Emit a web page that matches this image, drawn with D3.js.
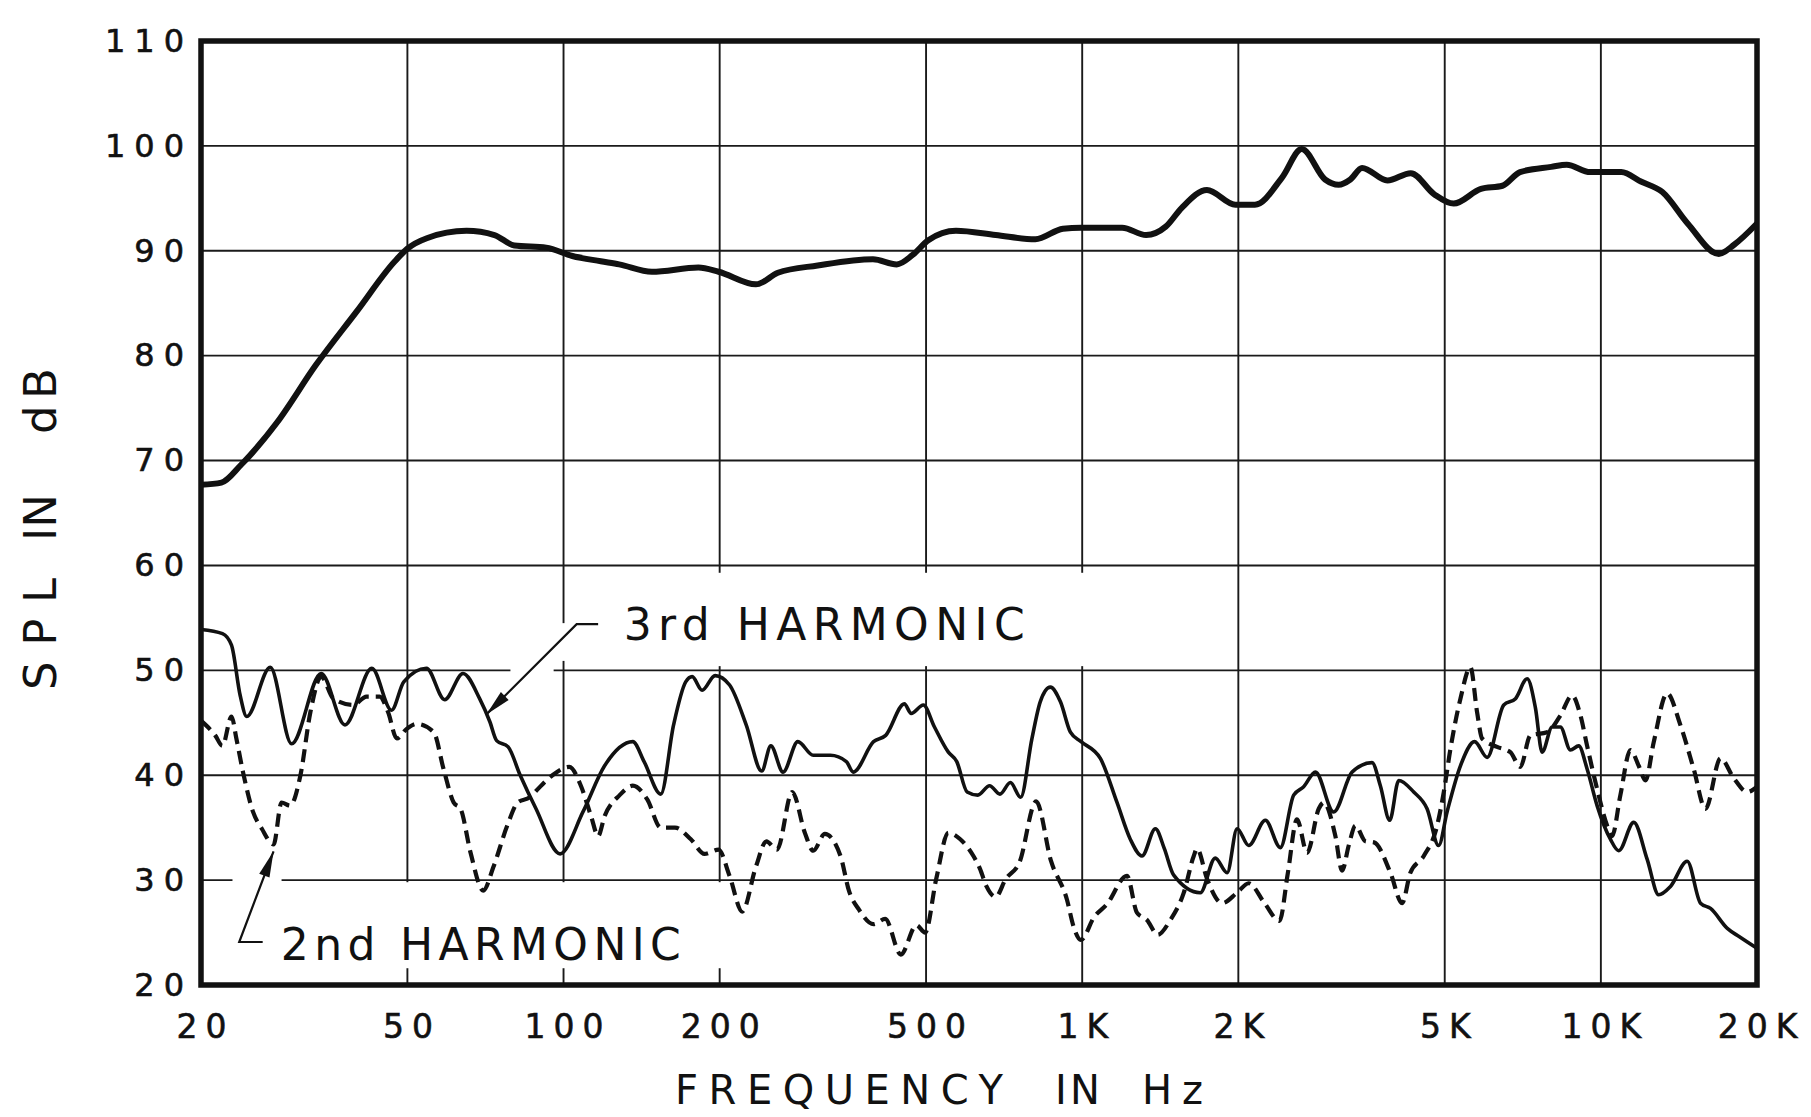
<!DOCTYPE html>
<html>
<head>
<meta charset="utf-8">
<script src="https://cdn.jsdelivr.net/npm/d3@7"></script>
<style>
    body { margin: 0; background: #fff; }
    svg { display: block; }
    text { font-family: "DejaVu Sans", sans-serif; fill: #111; }
</style>
</head>
<body>
<svg id="chart" width="1811" height="1117"></svg>
<script>
// fundamental SPL (thick line)
const responseFreq = [20, 21.9, 23.9, 28, 33.3, 39.9, 47.3, 50, 54.5, 65, 73.6, 80.4, 92.6, 104, 118, 128, 148, 182, 199, 235, 259, 309, 395, 439, 471, 505, 571, 681, 812, 918, 994, 1194, 1328, 1449, 1556, 1740, 1974, 2153, 2430, 2650, 2939, 3122, 3289, 3464, 3877, 4300, 4770, 5203, 5872, 6460, 6984, 8020, 8593, 9536, 10950, 11945, 13140, 14700, 16880, 18090, 20000]
const responseDb = [67.7, 67.9, 69.6, 73.6, 79.1, 84.2, 89.0, 90.2, 91.2, 91.9, 91.5, 90.5, 90.3, 89.5, 89.0, 88.7, 88.0, 88.4, 88.0, 86.8, 87.9, 88.6, 89.2, 88.7, 89.6, 91.0, 91.9, 91.5, 91.1, 92.1, 92.2, 92.2, 91.5, 92.3, 94.1, 95.8, 94.4, 94.4, 97.0, 99.7, 96.8, 96.3, 96.8, 97.9, 96.7, 97.4, 95.4, 94.5, 95.9, 96.2, 97.5, 98.0, 98.2, 97.5, 97.5, 96.6, 95.6, 92.6, 89.7, 90.6, 92.6]

// 3rd harmonic (solid)
const thirdFreq = [20, 22, 22.9, 23.8, 24.5, 27.2, 29.9, 34.1, 37.9, 42.7, 46.6, 49.2, 54.4, 59, 64, 68.9, 72.1, 74.3, 78.2, 82.5, 88.5, 98.5, 109, 120, 136, 143, 154, 163, 172, 177, 185, 196, 209, 225, 241, 251, 265, 283, 303, 327, 351, 362, 396, 418, 454, 468, 494, 519, 552, 573, 600, 629, 663, 694, 727, 761, 800, 830, 868, 908, 949, 995, 1084, 1167, 1238, 1304, 1384, 1440, 1500, 1689, 1805, 1903, 1989, 2094, 2255, 2410, 2557, 2673, 2816, 3054, 3313, 3621, 3757, 3916, 4077, 4357, 4623, 4867, 5052, 5361, 5710, 6036, 6498, 6845, 7211, 7480, 7706, 8055, 8356, 8735, 9063, 9408, 9834, 10432, 10826, 11572, 12279, 12928, 13622, 14670, 15563, 16272, 17530, 18500, 20000]
const thirdDb = [53.9, 53.5, 52.4, 47.6, 45.6, 50.3, 43.0, 49.7, 44.8, 50.2, 46.2, 48.9, 50.2, 47.2, 49.7, 47.3, 45.1, 43.3, 42.7, 40.0, 36.8, 32.5, 36.5, 40.9, 43.2, 41.3, 38.2, 44.8, 48.9, 49.4, 48.1, 49.5, 48.6, 44.8, 40.4, 42.8, 40.3, 43.2, 41.9, 41.9, 41.3, 40.3, 43.2, 43.8, 46.8, 45.9, 46.7, 44.6, 42.2, 41.3, 38.4, 38.1, 39.0, 38.2, 39.3, 37.9, 43.5, 47.0, 48.4, 47.0, 44.1, 43.2, 41.6, 37.4, 33.9, 32.3, 34.9, 33.0, 30.5, 28.8, 32.1, 30.7, 34.9, 33.3, 35.7, 33.1, 38.1, 38.9, 40.3, 36.5, 40.3, 41.2, 39.0, 35.7, 39.5, 38.4, 36.8, 33.3, 36.5, 40.9, 43.2, 41.7, 46.7, 47.3, 49.2, 46.4, 42.2, 44.6, 44.6, 42.4, 42.8, 40.6, 37.1, 33.9, 32.8, 35.5, 32.0, 28.6, 29.4, 31.8, 27.8, 27.3, 25.4, 24.6, 23.5]

// 2nd harmonic (dashed)
const secondFreq = [20, 21.3, 22, 22.9, 23.4, 24.1, 25.2, 26.2, 27.6, 28.6, 29.7, 31.1, 32.5, 34.1, 36, 39.3, 41.7, 44.2, 45.9, 47.7, 49.8, 52.1, 56.2, 58.7, 61.4, 63.3, 66.2, 70, 73.3, 77.9, 81.6, 86.1, 88.5, 95.2, 102.6, 108, 113, 116.6, 120, 128.3, 136, 145, 154, 164, 176, 187, 199, 209, 221, 235, 246, 258, 276, 292, 303, 319, 342, 355, 371, 396, 417, 447, 479, 498, 523, 552, 582, 617, 635, 654, 681, 712, 757, 815, 871, 935, 962, 994, 1055, 1116, 1220, 1275, 1333, 1399, 1479, 1570, 1641, 1665, 1741, 1861, 1989, 2094, 2247, 2401, 2492, 2595, 2714, 2858, 2922, 3077, 3170, 3265, 3363, 3516, 3654, 3929, 4137, 4293, 4556, 4834, 4979, 5128, 5361, 5604, 5773, 5902, 6308, 6691, 6994, 7313, 7877, 8356, 8801, 9134, 9408, 9834, 10280, 10510, 10905, 11400, 11830, 12190, 12650, 13420, 14230, 15100, 15910, 17010, 18050, 19150, 20000]
const secondDb = [45.2, 43.8, 42.8, 45.6, 43.5, 40.3, 36.5, 34.9, 33.4, 37.4, 37.1, 40.0, 46.0, 49.4, 47.3, 46.7, 47.5, 47.5, 46.0, 43.5, 44.4, 44.9, 44.1, 40.6, 37.4, 36.8, 32.6, 29.0, 31.3, 35.2, 37.4, 37.9, 38.5, 40.0, 40.8, 39.0, 36.1, 34.2, 36.1, 38.1, 39.0, 37.7, 35.0, 35.0, 33.9, 32.5, 32.9, 30.4, 27.0, 31.3, 33.7, 32.9, 38.4, 34.5, 32.8, 34.4, 32.3, 29.0, 27.2, 25.8, 26.3, 22.9, 25.7, 25.0, 30.1, 34.5, 33.9, 32.3, 31.1, 29.4, 28.4, 30.1, 31.7, 37.5, 31.8, 28.1, 25.6, 24.3, 26.5, 27.7, 30.4, 26.9, 26.2, 24.8, 26.2, 28.8, 32.3, 33.0, 30.1, 27.8, 28.8, 29.7, 27.8, 26.1, 30.7, 35.8, 32.6, 36.8, 37.4, 34.2, 30.9, 33.3, 35.2, 33.7, 33.6, 30.7, 27.8, 30.7, 32.3, 35.2, 38.4, 42.5, 47.3, 50.3, 46.0, 43.5, 42.7, 42.2, 40.8, 43.8, 44.1, 45.7, 47.6, 45.7, 42.8, 38.7, 35.2, 34.2, 38.1, 42.4, 40.9, 39.5, 43.2, 47.8, 44.8, 40.6, 36.8, 41.6, 39.7, 38.4, 38.9]

const gridFreq = [50, 100, 200, 500, 1000, 2000, 5000, 10000]
const gridDb = [30, 40, 50, 60, 70, 80, 90, 100]
const xTickValues = [20, 50, 100, 200, 500, 1000, 2000, 5000, 10000, 20000]
const xTickLabels = ["20", "50", "100", "200", "500", "1K", "2K", "5K", "10K", "20K"]
const yTickValues = [20, 30, 40, 50, 60, 70, 80, 90, 100, 110]

// leader lines: [stub end, corner, arrow tip] in (Hz, dB)
const thirdLeader = [[116.6, 54.4], [106, 54.4], [71, 45.8]]
const secondLeader = [[26.3, 24.1], [23.7, 24.1], [27.6, 32.75]]
const labels = [
    {text: "3rd HARMONIC", f: 130.6, db: 52.9, len: 401},
    {text: "2nd HARMONIC", f: 28.5, db: 22.4, len: 400}
]
// white areas cut out of the grid behind the labels
const knockouts = [
    {f0: 23, f1: 275, db0: 21.6, db1: 29.8},
    {f0: 23, f1: 28.6, db0: 29.4, db1: 30.6},
    {f0: 102.6, f1: 1041, db0: 50.4, db1: 59.3},
    {f0: 95, f1: 103, db0: 50.9, db1: 54.5},
    {f0: 79, f1: 95.7, db0: 49.5, db1: 50.5}
]

let svg = d3.select("#chart")
let x = d3.scaleLog().domain([20, 20000]).range([201, 1757])
let y = d3.scaleLinear().domain([20, 110]).range([985, 41])
let ink = "#111"

svg.append("rect").attr("width", 1811).attr("height", 1117).attr("fill", "#fff")

let grid = svg.append("g").attr("stroke", "#1a1a1a").attr("stroke-width", 1.9)
grid.selectAll(".v").data(gridFreq).join("line")
    .attr("x1", d => x(d)).attr("x2", d => x(d))
    .attr("y1", y(110)).attr("y2", y(20))
grid.selectAll(".h").data(gridDb).join("line")
    .attr("x1", x(20)).attr("x2", x(20000))
    .attr("y1", d => y(d)).attr("y2", d => y(d))

svg.append("g").selectAll("rect").data(knockouts).join("rect")
    .attr("fill", "#fff")
    .attr("x", d => x(d.f0)).attr("width", d => x(d.f1) - x(d.f0))
    .attr("y", d => y(d.db1)).attr("height", d => y(d.db0) - y(d.db1))

let line = d3.line().x(d => x(d[0])).y(d => y(d[1])).curve(d3.curveMonotoneX)

svg.append("path")
    .datum(responseFreq.map((f, i) => [f, responseDb[i]]))
    .attr("d", line).attr("fill", "none").attr("stroke", ink)
    .attr("stroke-width", 6).attr("stroke-linejoin", "round")
svg.append("path")
    .datum(thirdFreq.map((f, i) => [f, thirdDb[i]]))
    .attr("d", line).attr("fill", "none").attr("stroke", ink)
    .attr("stroke-width", 3.6).attr("stroke-linejoin", "round")
svg.append("path")
    .datum(secondFreq.map((f, i) => [f, secondDb[i]]))
    .attr("d", line).attr("fill", "none").attr("stroke", ink)
    .attr("stroke-width", 4.2).attr("stroke-dasharray", "13,7")

// frame
svg.append("rect")
    .attr("x", x(20)).attr("y", y(110))
    .attr("width", x(20000) - x(20)).attr("height", y(20) - y(110))
    .attr("fill", "none").attr("stroke", ink).attr("stroke-width", 5.5)

// axes
let lsY = 9, lsX = 8
let yAxis = svg.append("g")
    .attr("transform", `translate(${x(20)},0)`)
    .call(d3.axisLeft(y).tickValues(yTickValues).tickSize(0).tickPadding(17 - lsY))
yAxis.select(".domain").remove()
yAxis.selectAll("text").attr("font-size", 32).attr("letter-spacing", lsY)
    .style("font-family", "DejaVu Sans").attr("fill", ink)
    .attr("stroke", ink).attr("stroke-width", 0.6)

let xAxis = svg.append("g")
    .attr("transform", `translate(0,${y(20)})`)
    .call(d3.axisBottom(x).tickValues(xTickValues).tickSize(0).tickPadding(30)
        .tickFormat((d, i) => xTickLabels[i]))
xAxis.select(".domain").remove()
xAxis.selectAll("text").attr("font-size", 33).attr("letter-spacing", lsX)
    .attr("dx", lsX / 2).style("font-family", "DejaVu Sans").attr("fill", ink)
    .attr("stroke", ink).attr("stroke-width", 0.6)

// axis titles
let xTitle = [["FREQUENCY", 675, 328], ["IN", 1055, 45], ["Hz", 1142, 61]]
svg.append("g").selectAll("text").data(xTitle).join("text")
    .attr("x", d => d[1]).attr("y", 1104)
    .attr("font-size", 40).attr("textLength", d => d[2]).attr("lengthAdjust", "spacing")
    .text(d => d[0])

let yTitle = [["SPL", 690, 112], ["IN", 541, 47], ["dB", 434, 66]]
svg.append("g").attr("transform", "translate(56,0) rotate(-90)")
    .selectAll("text").data(yTitle).join("text")
    .attr("x", d => -d[1]).attr("y", 0)
    .attr("font-size", 45).attr("textLength", d => d[2]).attr("lengthAdjust", "spacing")
    .text(d => d[0])

// annotations
function leader(pts) {
    let p = pts.map(d => [x(d[0]), y(d[1])])
    svg.append("path")
        .attr("d", d3.line()(p))
        .attr("fill", "none").attr("stroke", ink).attr("stroke-width", 2.2)
    let tip = p[p.length - 1], from = p[p.length - 2]
    let a = Math.atan2(tip[1] - from[1], tip[0] - from[0])
    let len = 26, hw = 5.5
    let bx = tip[0] - len * Math.cos(a), by = tip[1] - len * Math.sin(a)
    let nx = -Math.sin(a) * hw, ny = Math.cos(a) * hw
    svg.append("path")
        .attr("d", `M${tip[0]},${tip[1]}L${bx + nx},${by + ny}L${bx - nx},${by - ny}Z`)
        .attr("fill", ink)
}
leader(thirdLeader)
leader(secondLeader)

svg.append("g").selectAll("text").data(labels).join("text")
    .attr("x", d => x(d.f)).attr("y", d => y(d.db))
    .attr("font-size", 44).attr("textLength", d => d.len).attr("lengthAdjust", "spacing")
    .text(d => d.text)
</script>
</body>
</html>
